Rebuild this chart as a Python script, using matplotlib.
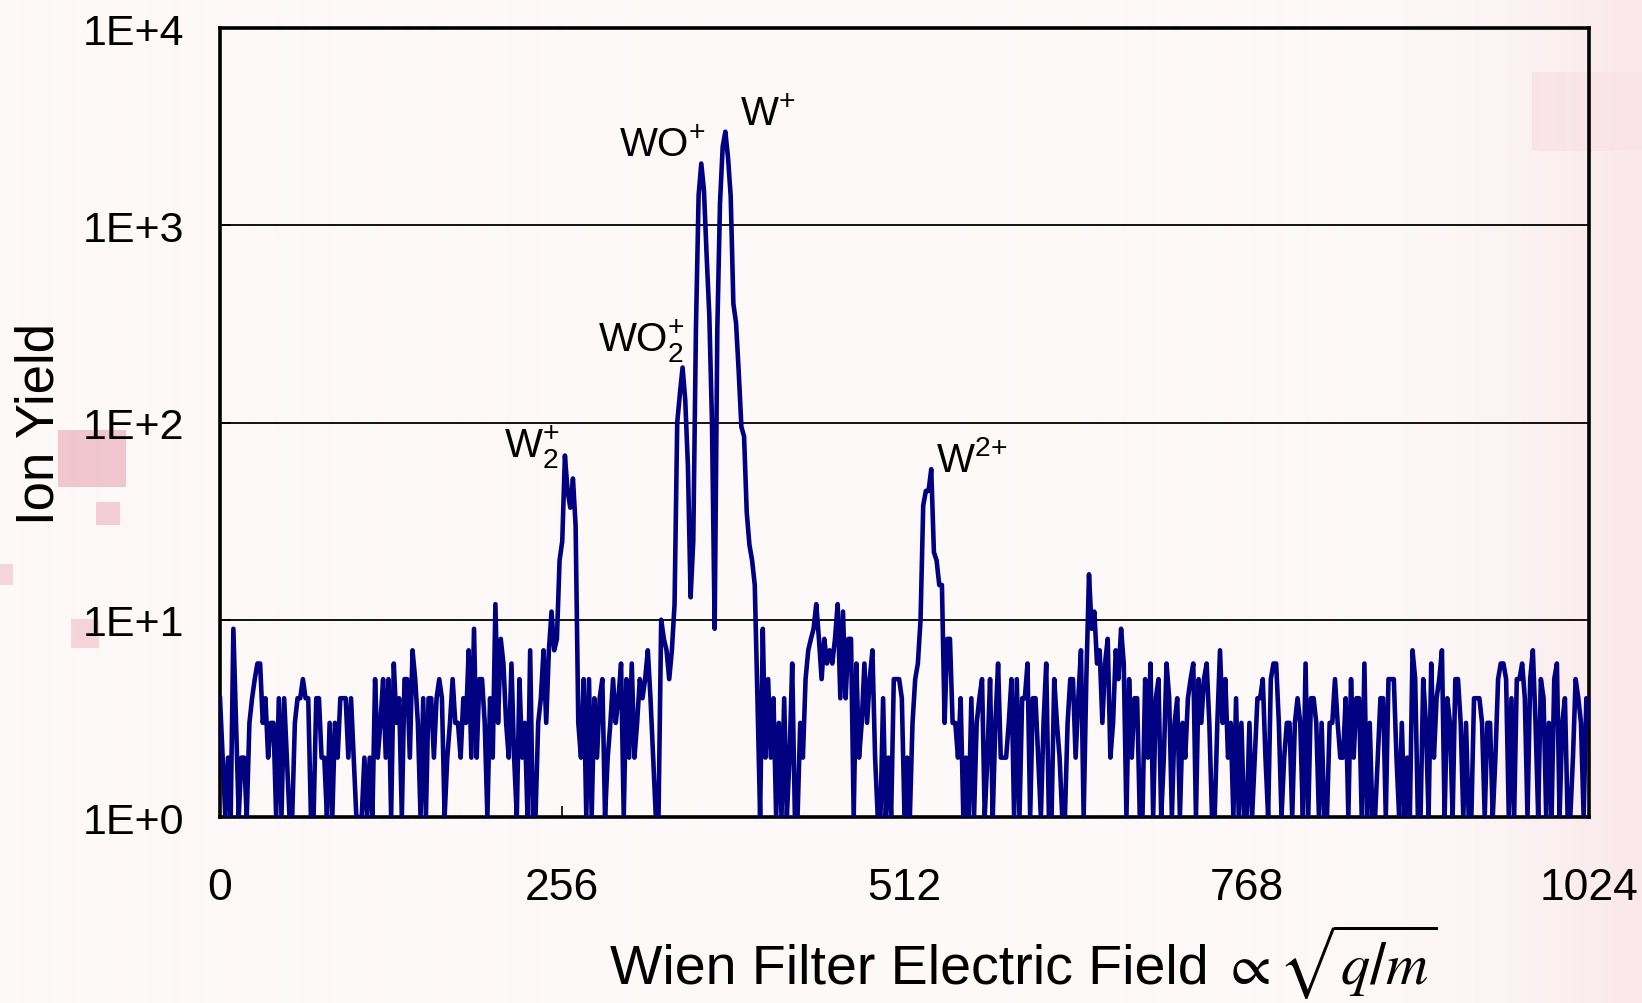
import numpy as np
import matplotlib
matplotlib.use("Agg")
import matplotlib.pyplot as plt
from matplotlib.ticker import FixedLocator, FixedFormatter, NullLocator

# ---------------- data ----------------
channel_step = 2
ion_yield = [
    4, 2, 1, 2, 1, 9, 3, 1, 2, 2, 1, 3, 4, 5, 6, 6, 3, 4, 2, 3, 3, 1, 4, 1, 4, 2, 1, 1, 3, 4, 4, 5,
    4, 4, 1, 1, 4, 4, 2, 2, 1, 3, 1, 3, 2, 4, 4, 4, 2, 4, 2, 1, 1, 1, 2, 1, 2, 1, 5, 2, 3, 5, 2, 5,
    1, 6, 3, 4, 1, 5, 5, 2, 7, 5, 3, 1, 4, 1, 4, 4, 2, 4, 5, 4, 1, 2, 3, 5, 3, 3, 2, 4, 3, 7, 2, 9,
    2, 5, 5, 3, 1, 4, 2, 12, 3, 8, 6, 3, 2, 6, 2, 1, 5, 2, 3, 1, 7, 1, 1, 3, 4, 7, 3, 7, 11, 7, 8, 20,
    25, 68, 45, 37, 52, 30, 3, 2, 5, 1, 5, 1, 4, 2, 4, 5, 1, 2, 3, 5, 3, 4, 6, 1, 5, 2, 6, 2, 3, 5, 4, 5,
    7, 4, 2, 1, 1, 10, 8, 7, 5, 7, 12, 100, 140, 190, 130, 60, 13, 25, 300, 1420, 2055, 1500, 700, 350,
    100, 9, 300, 1300, 2500, 2980, 2200, 1400,
    400, 320, 180, 95, 85, 35, 24, 20, 15, 4, 1, 9, 2, 5, 2, 4, 1, 3, 1, 4, 1, 2, 6, 1, 1, 3, 2, 5, 7, 8, 9, 12,
    8, 5, 8, 6, 7, 6, 8, 12, 4, 11, 4, 8, 8, 1, 6, 2, 3, 6, 3, 5, 7, 2, 1, 1, 4, 1, 2, 1, 5, 5, 5, 4,
    1, 2, 1, 3, 5, 6, 10, 38, 45, 45, 58, 22, 20, 15, 15, 3, 8, 8, 3, 3, 2, 4, 1, 2, 1, 4, 1, 3, 4, 5, 1, 2,
    5, 1, 3, 6, 2, 2, 2, 3, 5, 1, 5, 1, 4, 4, 6, 1, 4, 4, 2, 1, 3, 6, 1, 1, 5, 3, 2, 1, 1, 3, 5, 5,
    2, 4, 7, 1, 5, 17, 9, 11, 6, 7, 3, 6, 8, 2, 3, 7, 5, 9, 6, 1, 5, 2, 4, 4, 1, 1, 5, 2, 6, 1, 4, 5,
    1, 2, 6, 4, 1, 3, 4, 1, 3, 2, 4, 5, 6, 1, 5, 3, 5, 6, 3, 1, 1, 3, 7, 3, 5, 2, 3, 1, 4, 1, 3, 1,
    1, 3, 1, 2, 4, 4, 5, 2, 1, 5, 6, 6, 3, 1, 2, 3, 3, 1, 3, 4, 3, 1, 6, 1, 4, 4, 3, 1, 3, 1, 1, 3,
    3, 5, 3, 2, 2, 4, 1, 5, 2, 4, 4, 1, 6, 1, 3, 1, 1, 2, 4, 4, 1, 5, 5, 5, 2, 1, 3, 1, 2, 1, 7, 5,
    1, 1, 5, 3, 1, 6, 2, 4, 5, 7, 1, 4, 3, 1, 5, 5, 3, 1, 3, 1, 1, 4, 4, 4, 3, 1, 3, 3, 1, 2, 5, 6,
    6, 5, 1, 4, 1, 5, 5, 6, 4, 1, 5, 7, 3, 1, 5, 4, 1, 3, 1, 5, 6, 1, 3, 4, 1, 1, 2, 5, 4, 3, 1, 4,
    3,
]
channels = np.arange(0, channel_step * len(ion_yield), channel_step)

x_ticks = [0, 256, 512, 768, 1024]
x_tick_labels = ["0", "256", "512", "768", "1024"]
y_ticks = [1, 10, 100, 1000, 10000]
y_tick_labels = ["1E+0", "1E+1", "1E+2", "1E+3", "1E+4"]
grid_levels = [10, 100, 1000]

peak_labels = [r"W$_{2}^{{+}}$", r"WO$_{2}^{{+}}$", r"WO$^{{+}}$", r"W$^{{+}}$", r"W$^{2{+}}$"]
peak_label_x = [233, 315, 331, 410, 562]
peak_label_y = [76, 261, 2540, 3665, 65]

# ---------------- fonts ----------------
plt.rcParams["font.family"] = ["Liberation Sans", "DejaVu Sans"]
plt.rcParams["mathtext.fontset"] = "custom"
plt.rcParams["mathtext.rm"] = "Liberation Sans"
plt.rcParams["mathtext.it"] = "Liberation Sans:italic"
plt.rcParams["mathtext.default"] = "regular"

W, H = 1642, 1004
fig = plt.figure(figsize=(W / 100, H / 100), dpi=100)

# ---------------- background ----------------
bg = np.zeros((H, W, 3))
base = np.array([253, 249, 248]) / 255
pink = np.array([250, 231, 234]) / 255
xs = np.linspace(0, 1, W)
wgt = np.clip((xs - 0.82) / 0.18, 0, 1) ** 1.8
bg[:] = base[None, None, :] * (1 - wgt[None, :, None]) + pink[None, None, :] * wgt[None, :, None]
patches_bg = [
    (58, 431, 126, 488, (241, 198, 206)),
    (96, 503, 120, 526, (244, 206, 213)),
    (71, 620, 99, 649, (245, 212, 218)),
    (0, 565, 13, 586, (245, 214, 220)),
    (1531, 73, 1642, 152, (249, 228, 231)),
]
for x0, y0, x1, y1, c in patches_bg:
    bg[y0:y1, x0:x1, :] = np.array(c) / 255
bgax = fig.add_axes([0, 0, 1, 1], zorder=-10)
bgax.imshow(bg, aspect="auto", extent=(0, 1, 0, 1), interpolation="bilinear")
bgax.axis("off")

# ---------------- main axes ----------------
left, right, top, bottom = 220, 1589, 29, 818
ax = fig.add_axes([left / W, 1 - bottom / H, (right - left) / W, (bottom - top) / H])
ax.set_facecolor("none")
ax.set_yscale("log")
ax.set_xlim(0, 1024)
ax.set_ylim(1, 10000)

for g in grid_levels:
    ax.axhline(g, color="black", lw=1.3, zorder=1)

ax.plot(channels, ion_yield, color="#000080", lw=3.3, zorder=3,
        solid_joinstyle="round")

ax.xaxis.set_major_locator(FixedLocator(x_ticks))
ax.xaxis.set_major_formatter(FixedFormatter(x_tick_labels))
ax.yaxis.set_major_locator(FixedLocator(y_ticks))
ax.yaxis.set_major_formatter(FixedFormatter(y_tick_labels))
ax.xaxis.set_minor_locator(NullLocator())
ax.yaxis.set_minor_locator(NullLocator())
ax.tick_params(axis="x", direction="in", length=8, width=1.2, pad=36,
               labelsize=32, colors="black")
ax.tick_params(axis="y", direction="in", length=8, width=1.2, pad=26,
               labelsize=31, colors="black")

for s in ax.spines.values():
    s.set_linewidth(2.6)
    s.set_color("black")

for txt, px, py in zip(peak_labels, peak_label_x, peak_label_y):
    ax.text(px, py, txt, fontsize=29, ha="center", va="center", color="black", zorder=4)

# axis labels
fig.text(610 / W, 1 - 984 / H, "Wien Filter Electric Field", fontsize=40,
         ha="left", va="baseline")
fig.text(1222 / W, 1 - 984 / H, r"$\propto\sqrt{\mathit{q}/\mathit{m}}$", fontsize=42,
         ha="left", va="baseline", math_fontfamily="stix")
fig.text(40 / W, 1 - 424 / H, "Ion Yield", fontsize=38, rotation=90,
         ha="center", va="center")

fig.savefig("out.png", dpi=100)
